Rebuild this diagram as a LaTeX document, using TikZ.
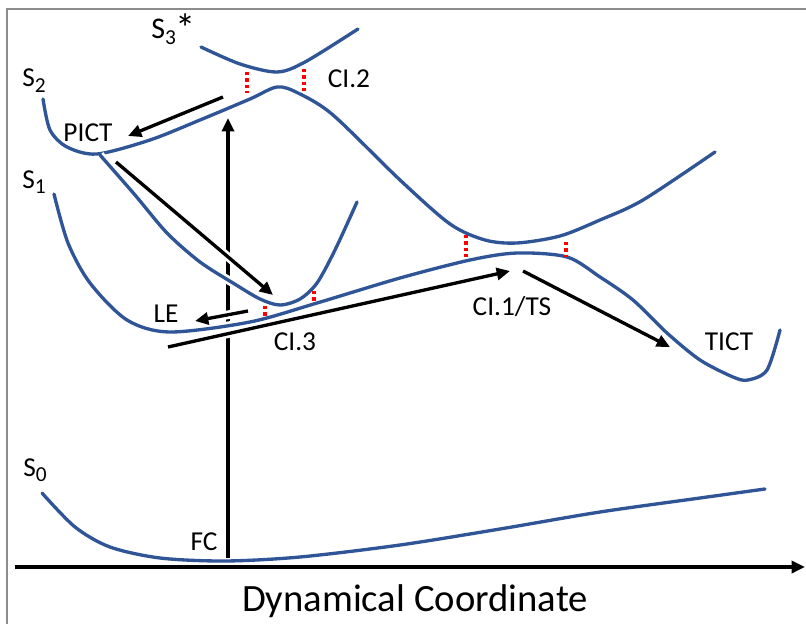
\documentclass[tikz,border=0pt]{standalone}
\usepackage{fontspec}
\setmainfont{Carlito}
\usepackage{xcolor}
\usepackage{tikz}
\definecolor{diagBlue}{HTML}{2F5597}
\definecolor{diagRed}{HTML}{FF0000}
\definecolor{diagFrame}{HTML}{8C8C8C}
\usetikzlibrary{arrows.meta}
\newcommand{\stsub}[1]{\raisebox{-3.8pt}{\fontsize{16}{16}\selectfont #1}}

\begin{document}
\begin{tikzpicture}[
  x=0.75pt, y=-0.75pt,
  font=\fontsize{20.5}{24}\selectfont,
  surface/.style={draw=diagBlue, line width=2.5pt, line cap=round},
  halo/.style={preaction={draw=white, line width=6.5pt}},
  reaction/.style={draw=black, line width=2.5pt, -{Triangle[length=10pt, width=9pt]}},
  ci/.style={draw=diagRed, line width=2.5pt, dash pattern=on 2.5pt off 2.2pt},
  lbl/.style={inner sep=0pt, anchor=base}
]
\useasboundingbox (0,0) rectangle (806,624);

% Frame
\coordinate (frameBL) at (7,624);
\coordinate (frameTL) at (7,9);
\coordinate (frameTR) at (806,9);
\draw[diagFrame, line width=1.6pt] (frameBL) -- (frameTL) -- (frameTR);

% Axis
\coordinate (axisStart) at (15,567);
\coordinate (axisEnd) at (805,567);
\draw[line width=2.5pt, -{Triangle[length=10pt, width=9pt]}] (axisStart) -- (axisEnd);
\node[lbl, font=\fontsize{29}{34}\selectfont] (axisLabel) at (415,611) {Dynamical Coordinate};

% Vertical excitation
\coordinate (fcBase) at (228,558);
\coordinate (fcTop) at (228,118);
\draw[reaction] (fcBase) -- (fcTop);

% Potential energy surfaces
\draw[surface] plot[smooth] coordinates {(42,493) (75,527) (110,547) (160,558) (225,561) (300,557) (400,545) (500,529) (600,512) (700,498) (765,489)};
\draw[surface] plot[smooth] coordinates {(201,47) (240,64) (277,72) (305,62) (358,29)};
\draw[surface] plot[smooth] coordinates {(43,99) (50,130) (67,147) (97,154) (150,140) (200,120) (250,99) (277,87) (298,93) (333,115) (400,180) (450,224) (485,240) (517,243) (560,236) (600,220) (643,200) (715,152)};
\draw[surface, halo] plot[smooth] coordinates {(100,155) (135,195) (167,233) (200,262) (233,283) (260,299) (280,305) (300,299) (317,283) (335,250) (357,202)};
\draw[surface, halo] plot[smooth] coordinates {(54,194) (68,243) (90,283) (127,320) (170,332) (250,322) (317,303) (400,278) (470,260) (517,253) (567,257) (600,277) (633,300) (667,333) (700,360) (733,377) (748,380) (767,370) (780,330)};

% Reaction paths
\coordinate (s2Start) at (223,97);
\coordinate (pictEnd) at (128,136);
\coordinate (pictStart) at (116,162);
\coordinate (s1Min) at (273,295);
\coordinate (leStart) at (248,311);
\coordinate (leEnd) at (195,321);
\coordinate (ci3Start) at (168,347);
\coordinate (tsEnd) at (510,271);
\coordinate (tsStart) at (523,271);
\coordinate (tictEnd) at (670,347);
\draw[reaction] (s2Start) -- (pictEnd);
\draw[reaction, halo] (pictStart) -- (s1Min);
\draw[reaction, halo] (leStart) -- (leEnd);
\draw[reaction, halo] (ci3Start) -- (tsEnd);
\draw[reaction] (tsStart) -- (tictEnd);

% Conical intersections
\coordinate (ci2aTop) at (247,72);  \coordinate (ci2aBot) at (247,93);
\coordinate (ci2bTop) at (304,69);  \coordinate (ci2bBot) at (304,91);
\coordinate (ci1aTop) at (466,235); \coordinate (ci1aBot) at (466,257);
\coordinate (ci1bTop) at (566,242); \coordinate (ci1bBot) at (566,257);
\coordinate (ci3aTop) at (265,306); \coordinate (ci3aBot) at (265,316);
\coordinate (ci3bTop) at (314,291); \coordinate (ci3bBot) at (314,301);
\draw[ci] (ci2aTop) -- (ci2aBot);
\draw[ci] (ci2bTop) -- (ci2bBot);
\draw[ci] (ci1aTop) -- (ci1aBot);
\draw[ci] (ci1bTop) -- (ci1bBot);
\draw[ci] (ci3aTop) -- (ci3aBot);
\draw[ci] (ci3bTop) -- (ci3bBot);

% Labels
\node[lbl, anchor=base west, font=\fontsize{22.5}{26}\selectfont] (labS3) at (151,39) {S\stsub{3}\raisebox{-3pt}{\scalebox{1.35}{*}}};
\node[lbl, anchor=base west] (labS2) at (22,87) {S\stsub{2}};
\node[lbl, anchor=base west] (labS1) at (22,188) {S\stsub{1}};
\node[lbl, anchor=base west] (labS0) at (23,476) {S\stsub{0}};
\node[lbl] (labPICT) at (88,142) {PICT};
\node[lbl] (labCI2) at (349,88) {CI.2};
\node[lbl] (labLE) at (166,322) {LE};
\node[lbl] (labCI3) at (295,350) {CI.3};
\node[lbl] (labTS) at (512,315) {CI.1/TS};
\node[lbl] (labTICT) at (729,350) {TICT};
\node[lbl] (labFC) at (204,550) {FC};

\end{tikzpicture}
\end{document}
